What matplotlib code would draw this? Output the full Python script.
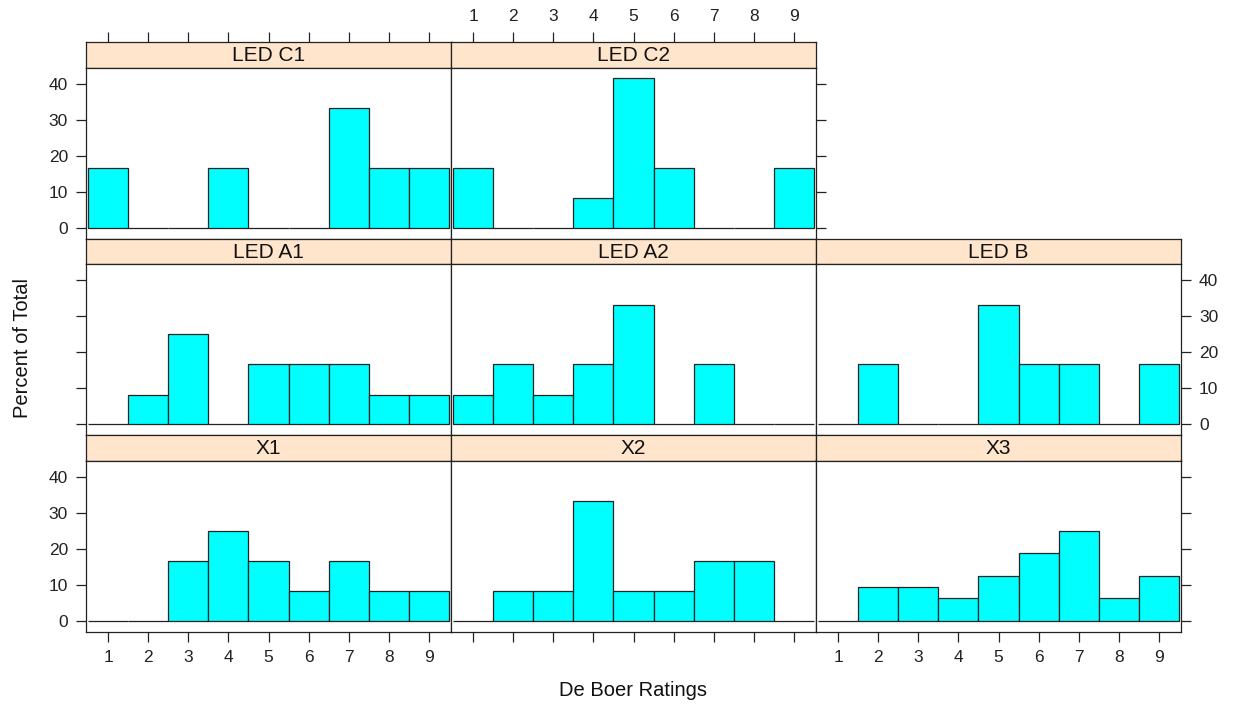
import matplotlib
matplotlib.use("Agg")
import matplotlib.pyplot as plt

plt.rcParams['font.family'] = ['Liberation Sans', 'DejaVu Sans']

# De Boer rating scale and percent of total per panel
ratings = [1, 2, 3, 4, 5, 6, 7, 8, 9]
led_c1 = [16.67, 0, 0, 16.67, 0, 0, 33.33, 16.67, 16.67]
led_c2 = [16.67, 0, 0, 8.33, 41.67, 16.67, 0, 0, 16.67]
led_a1 = [0, 8.33, 25.0, 0, 16.67, 16.67, 16.67, 8.33, 8.33]
led_a2 = [8.33, 16.67, 8.33, 16.67, 33.33, 0, 16.67, 0, 0]
led_b = [0, 16.67, 0, 0, 33.33, 16.67, 16.67, 0, 16.67]
x1 = [0, 0, 16.67, 25.0, 16.67, 8.33, 16.67, 8.33, 8.33]
x2 = [0, 8.33, 8.33, 33.33, 8.33, 8.33, 16.67, 16.67, 0]
x3 = [0, 9.38, 9.38, 6.25, 12.5, 18.75, 25.0, 6.25, 12.5]
y_ticks = [0, 10, 20, 30, 40]

# (title, values, row, col) ; row 0 is the top row
panels = [
    ("LED C1", led_c1, 0, 0),
    ("LED C2", led_c2, 0, 1),
    ("LED A1", led_a1, 1, 0),
    ("LED A2", led_a2, 1, 1),
    ("LED B", led_b, 1, 2),
    ("X1", x1, 2, 0),
    ("X2", x2, 2, 1),
    ("X3", x3, 2, 2),
]

W, H = 1238, 709
fig = plt.figure(figsize=(W / 100, H / 100), dpi=100)

col_left = [86, 451, 816]
col_w = 365
row_top = [42, 238.5, 435]
strip_h = 25.5
panel_h = 171

XLIM = (0.44, 9.56)
YLIM = (-2.92, 44.58)
FRAME = "#222222"
TICK_KW = dict(length=7, width=0.9, color=FRAME, labelsize=12.5, pad=6,
               labelcolor="#222222")


def box(x, top, w, h):
    return [x / W, 1 - (top + h) / H, w / W, h / H]


for title, vals, r, c in panels:
    # strip with the panel name
    sax = fig.add_axes(box(col_left[c], row_top[r], col_w, strip_h))
    sax.set_facecolor("#FFE5CC")
    sax.set_xlim(*XLIM)
    sax.set_ylim(0, 1)
    sax.text(0.5, 0.46, title, transform=sax.transAxes, ha="center",
             va="center", fontsize=15, color="#111111")
    for s in sax.spines.values():
        s.set_color(FRAME)
        s.set_linewidth(0.9)
    sax.tick_params(axis="both", which="both", left=False, right=False,
                    bottom=False, top=False, labelleft=False,
                    labelbottom=False, labeltop=False, labelright=False)
    if r == 0:
        sax.set_xticks(ratings)
        sax.tick_params(axis="x", top=True, labeltop=(c == 1), **TICK_KW)

    # histogram panel
    ax = fig.add_axes(box(col_left[c], row_top[r] + strip_h, col_w, panel_h))
    ax.bar(ratings, vals, width=1.0, color="#00FFFF", edgecolor="#222222",
           linewidth=0.9, align="center")
    ax.set_xlim(*XLIM)
    ax.set_ylim(*YLIM)
    for s in ax.spines.values():
        s.set_color(FRAME)
        s.set_linewidth(0.9)
    ax.set_xticks(ratings)
    ax.set_yticks(y_ticks)
    ax.tick_params(axis="both", which="both", left=False, right=False,
                   bottom=False, top=False, labelleft=False,
                   labelbottom=False, labeltop=False, labelright=False)
    # left axis on first column; labels alternate by row
    if c == 0:
        ax.tick_params(axis="y", left=True, labelleft=(r != 1), **TICK_KW)
    # right axis on last panel of each row
    if (r == 0 and c == 1) or (r > 0 and c == 2):
        ax.tick_params(axis="y", right=True, labelright=(r == 1), **TICK_KW)
    # bottom axis on the bottom row
    if r == 2:
        ax.tick_params(axis="x", bottom=True, labelbottom=(c != 1), **TICK_KW)

fig.text(22 / W, 1 - 348 / H, "Percent of Total", rotation=90, ha="center",
         va="center", fontsize=14.5, color="#111111")
fig.text(633 / W, 1 - 690 / H, "De Boer Ratings", ha="center", va="center",
         fontsize=14.5, color="#111111")

fig.savefig("out.png", dpi=100, facecolor="white")
